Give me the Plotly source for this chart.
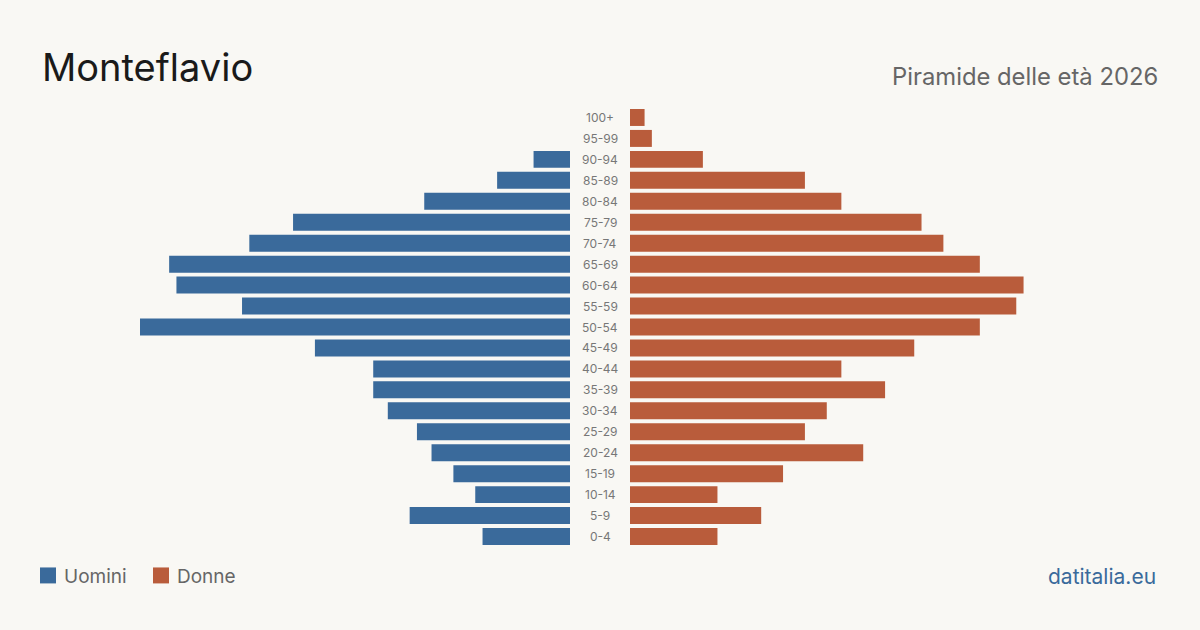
import plotly.graph_objects as go

ages = ["0-4", "5-9", "10-14", "15-19", "20-24", "25-29", "30-34", "35-39", "40-44",
        "45-49", "50-54", "55-59", "60-64", "65-69", "70-74", "75-79", "80-84",
        "85-89", "90-94", "95-99", "100+"]
uomini = [12, 22, 13, 16, 19, 21, 25, 27, 27, 35, 59, 45, 54, 55, 44, 38, 20, 10, 5, 0, 0]
donne = [12, 18, 12, 21, 32, 24, 27, 35, 29, 39, 48, 53, 54, 48, 43, 40, 29, 24, 10, 3, 2]

BLUE = "#3a6a9b"
ORANGE = "#b95c3b"
BG = "#f9f8f4"
FONT = "Inter"

vmax = max(max(uomini), max(donne))
W, H = 1200, 630

fig = go.Figure()
fig.add_trace(go.Bar(y=ages, x=uomini, orientation="h", marker_color=BLUE,
                     marker_line_width=0,
                     xaxis="x", yaxis="y", name="Uomini", hoverinfo="x+y"))
fig.add_trace(go.Bar(y=ages, x=donne, orientation="h", marker_color=ORANGE,
                     marker_line_width=0,
                     xaxis="x2", yaxis="y", name="Donne", hoverinfo="x+y"))

for a in ages:
    fig.add_annotation(x=0.5, xref="paper", y=a, yref="y", text=a, showarrow=False,
                       font=dict(family=FONT, size=12, color="#777"), xanchor="center")

top, bottom = 106.5, 547.5
fig.update_layout(
    width=W, height=H, showlegend=False,
    paper_bgcolor=BG, plot_bgcolor=BG,
    margin=dict(l=0, r=0, t=top, b=H - bottom),
    bargap=0.19,
    xaxis=dict(domain=[140 / W, 570 / W], range=[vmax, 0], visible=False, fixedrange=True),
    xaxis2=dict(domain=[630 / W, 1060 / W], range=[0, vmax], visible=False, fixedrange=True),
    yaxis=dict(categoryorder="array", categoryarray=ages, visible=False,
               range=[-0.5, len(ages) - 0.5], fixedrange=True),
    font=dict(family=FONT),
)

def paper_x(x):
    return x / W
def paper_y(y):
    return (bottom - y) / (bottom - top)

fig.add_annotation(x=paper_x(40), y=paper_y(66), xref="paper", yref="paper", text="Monteflavio",
                   showarrow=False, xanchor="left", yanchor="middle",
                   font=dict(family=FONT, size=38, color="#1a1a1a"))
fig.add_annotation(x=paper_x(1160), y=paper_y(76), xref="paper", yref="paper",
                   text="Piramide delle età 2026", showarrow=False, xanchor="right", yanchor="middle",
                   font=dict(family=FONT, size=23.8, color="#666666"))
fig.add_annotation(x=paper_x(1158), y=paper_y(577), xref="paper", yref="paper",
                   text="datitalia.eu", showarrow=False, xanchor="right", yanchor="middle",
                   font=dict(family=FONT, size=21, color=BLUE))

# Legend
for x0, col, label in [(40, BLUE, "Uomini"), (153, ORANGE, "Donne")]:
    fig.add_shape(type="rect", xref="paper", yref="paper",
                  x0=paper_x(x0), x1=paper_x(x0 + 16), y0=paper_y(584), y1=paper_y(568),
                  fillcolor=col, line_width=0)
    fig.add_annotation(x=paper_x(x0 + 22), y=paper_y(577), xref="paper", yref="paper",
                       text=label, showarrow=False, xanchor="left", yanchor="middle",
                       font=dict(family=FONT, size=19, color="#666666"))

fig.write_html("out.html", config={"displayModeBar": False})
